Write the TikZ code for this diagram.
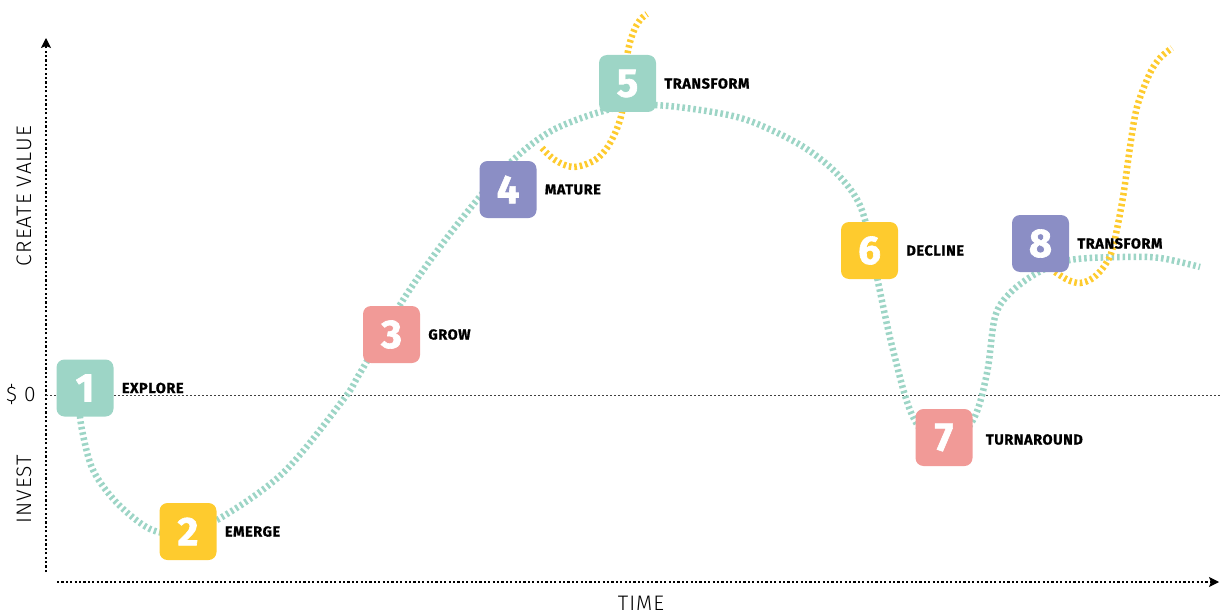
\documentclass[tikz,border=0pt]{standalone}
\usepackage{fontspec}
\setmainfont{Fira Sans}
\newfontfamily\axisfont{Fira Sans Light}[LetterSpace=5]
\newfontfamily\numfont{Fira Sans}[BoldFeatures={FakeBold=1.6}]
\newfontfamily\tagfont{Fira Sans}[LetterSpace=4, BoldFeatures={FakeBold=1}]
\usepackage{tikz}
\usetikzlibrary{arrows.meta,positioning}
\definecolor{mint}{HTML}{9DD5C6}
\definecolor{sun}{HTML}{FECB2E}
\definecolor{coral}{HTML}{F19A97}
\definecolor{lilac}{HTML}{8B8EC5}
\tikzset{
  stagebox/.style={
    fill=#1, rounded corners=8pt, inner sep=0pt,
    minimum width=57pt, minimum height=57pt,
    text=white, font=\numfont\fontsize{40}{40}\selectfont\bfseries},
  stagelabel/.style={
    right=8pt of #1, inner sep=0pt,
    font=\tagfont\fontsize{14.5}{14.5}\selectfont\bfseries},
  lifeline/.style={
    draw=mint, line width=6.5pt, dash pattern=on 2.6pt off 2.9pt},
  renewline/.style={
    lifeline, draw=sun},
  axisline/.style={
    line width=1.2pt, dash pattern=on 2.2pt off 2.2pt,
    -{Stealth[length=10pt, width=10pt, inset=2pt]}},
  zeroline/.style={
    line width=0.9pt, dash pattern=on 2pt off 2pt, draw=black!75},
  axistext/.style={
    inner sep=0pt, font=\axisfont\fontsize{21}{21}\selectfont},
}

\begin{document}
\begin{tikzpicture}[x=1pt, y=-1pt]
  \useasboundingbox (0,0) rectangle (1220,615);

  % axes
  \coordinate (yfoot) at (46,572);
  \coordinate (ytop)  at (46,38);
  \coordinate (xfoot) at (57,582);
  \coordinate (xtip)  at (1219,582);
  \coordinate (zleft) at (46,395);
  \coordinate (zright) at (1220,395);
  \draw[axisline] (yfoot) -- (ytop);
  \draw[axisline] (xfoot) -- (xtip);
  \draw[zeroline] (zleft) -- (zright);

  \node[axistext, rotate=90] (value)  at (24,196) {CREATE VALUE};
  \node[axistext]            (zero)   at (21,394) {\$ 0};
  \node[axistext, rotate=90] (invest) at (24,489) {INVEST};
  \node[axistext]            (time)   at (641,603) {TIME};

  % life cycle curve
  \draw[lifeline] plot[smooth, tension=0.55] coordinates {
    (79,405) (82,430) (93,470) (117,503) (150,529) (180,533) (217,520)
    (283,473) (343,400) (360,373) (403,300) (440,247) (477,200) (513,160)
    (553,130) (607,110) (650,105) (700,110) (747,120) (797,143) (830,167)
    (853,193) (865,220) (878,282) (893,350) (913,417) (943,450) (973,420)
    (987,373) (995,317) (1010,293) (1037,273) (1070,260) (1123,257)
    (1160,258) (1200,267)};

  % transform branches
  \draw[renewline] plot[smooth, tension=0.55] coordinates {
    (542,148) (555,160) (573,167) (595,160) (610,143) (622,112)
    (627,57) (633,33) (640,20) (647,14)};
  \draw[renewline] plot[smooth, tension=0.55] coordinates {
    (1055,272) (1068,280) (1080,283) (1093,278) (1105,265) (1113,247)
    (1123,197) (1130,147) (1137,107) (1150,73) (1160,58) (1172,48)};

  % stages
  \node[stagebox=mint]  (s1) at (85,388)    {1};
  \node[stagebox=sun]   (s2) at (188,531.5) {2};
  \node[stagebox=coral] (s3) at (391.5,334.5) {3};
  \node[stagebox=lilac] (s4) at (508,189.5) {4};
  \node[stagebox=mint]  (s5) at (627.5,83.5) {5};
  \node[stagebox=sun]   (s6) at (869.5,250.5) {6};
  \node[stagebox=coral] (s7) at (944,437.5) {7};
  \node[stagebox=lilac] (s8) at (1040.5,243.5) {8};

  \node[stagelabel=s1] (l1) {EXPLORE};
  \node[stagelabel=s2] (l2) {EMERGE};
  \node[stagelabel=s3] (l3) {GROW};
  \node[stagelabel=s4] (l4) {MATURE};
  \node[stagelabel=s5] (l5) {TRANSFORM};
  \node[stagelabel=s6] (l6) {DECLINE};
  \node[stagelabel=s7, xshift=5pt, yshift=-2pt] (l7) {TURNAROUND};
  \node[stagelabel=s8] (l8) {TRANSFORM};
\end{tikzpicture}
\end{document}
